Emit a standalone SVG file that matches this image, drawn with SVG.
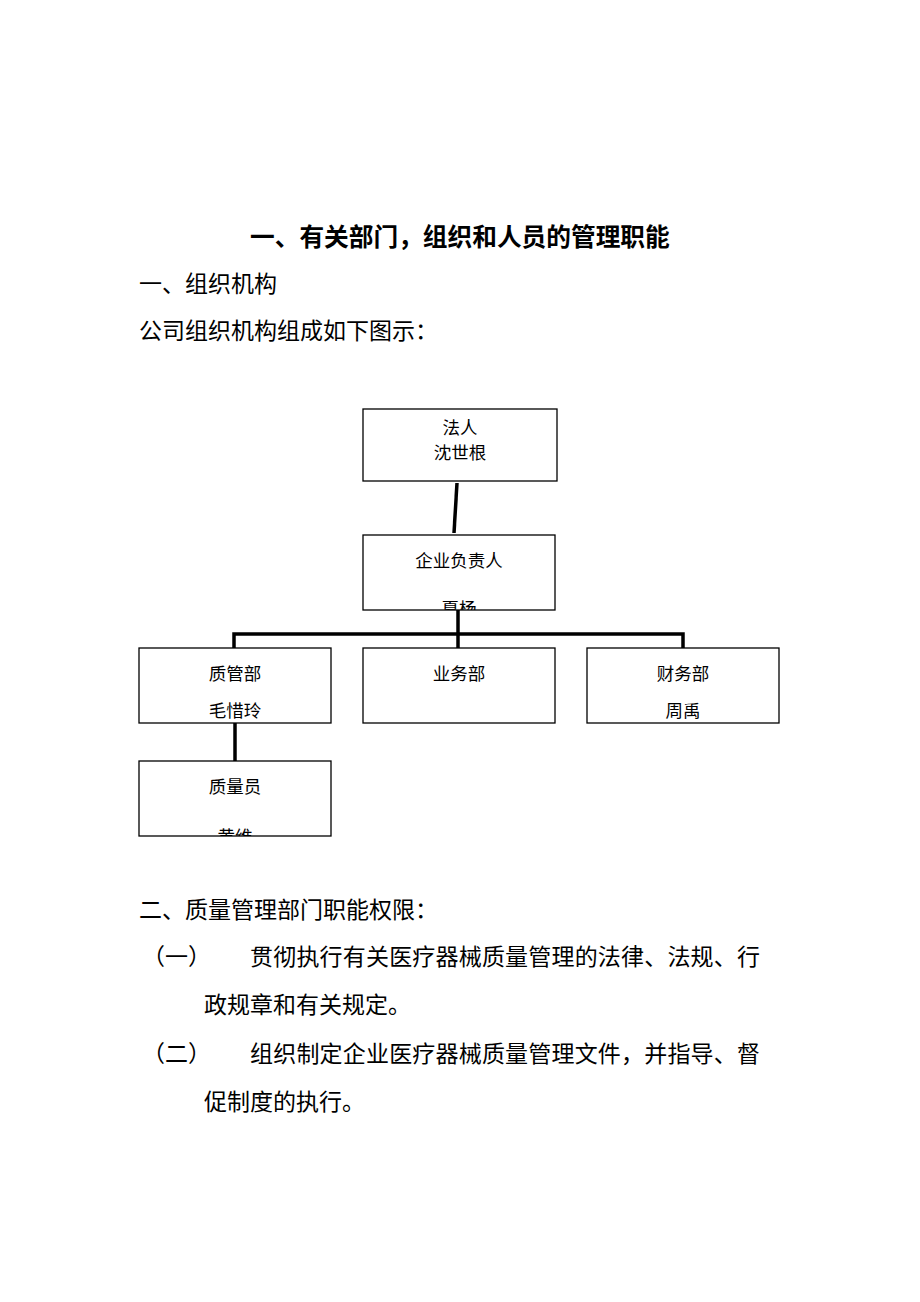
<svg xmlns="http://www.w3.org/2000/svg" width="920" height="1302" viewBox="0 0 920 1302">
<style>
.t{font-family:"Liberation Sans","Noto Sans CJK SC",sans-serif;fill:#000}
.h{font-size:24.7px;font-weight:bold}
.b{font-size:23px}
.n{font-size:17.5px;text-anchor:middle}
.box{fill:#fff;stroke:#000;stroke-width:1.3}
.c{stroke:#000;stroke-width:3.5;fill:none}
</style>
<defs>
<clipPath id="cp2"><rect x="363" y="535" width="192" height="75"/></clipPath>
<clipPath id="cp6"><rect x="139" y="761" width="192" height="75"/></clipPath>
</defs>
<rect width="920" height="1302" fill="#fff"/>
<text class="t h" x="250" y="246">一、有关部门，组织和人员的管理职能</text>
<text class="t b" x="139" y="292">一、组织机构</text>
<text class="t b" x="139" y="339">公司组织机构组成如下图示：</text>
<g id="connectors">
<line class="c" x1="457" y1="483" x2="454" y2="533"/>
<line class="c" x1="458" y1="610" x2="458" y2="634"/>
<polyline class="c" points="234,648 234,634 683,634 683,648"/>
<line class="c" x1="458" y1="634" x2="458" y2="648"/>
<line class="c" x1="235" y1="723" x2="235" y2="761"/>
</g>
<g id="n1"><rect class="box" x="363" y="409" width="194" height="72"/>
<text class="t n" x="460" y="434">法人</text><text class="t n" x="460" y="459">沈世根</text></g>
<g id="n2"><rect class="box" x="363" y="535" width="192" height="75"/>
<text class="t n" x="459" y="567">企业负责人</text>
<text class="t n" x="459" y="615" clip-path="url(#cp2)">夏杨</text></g>
<g id="n3"><rect class="box" x="139" y="648" width="192" height="75"/>
<text class="t n" x="235" y="680">质管部</text><text class="t n" x="235" y="717">毛惜玲</text></g>
<g id="n4"><rect class="box" x="363" y="648" width="192" height="75"/>
<text class="t n" x="459" y="680">业务部</text></g>
<g id="n5"><rect class="box" x="587" y="648" width="192" height="75"/>
<text class="t n" x="683" y="680">财务部</text><text class="t n" x="683" y="717">周禹</text></g>
<g id="n6"><rect class="box" x="139" y="761" width="192" height="75"/>
<text class="t n" x="235" y="793">质量员</text>
<text class="t n" x="235" y="843" clip-path="url(#cp6)">黄维</text></g>
<text class="t b" x="139" y="918">二、质量管理部门职能权限：</text>
<text class="t b" x="142" y="965">（一）</text>
<text class="t b" x="250" y="965" textLength="510">贯彻执行有关医疗器械质量管理的法律、法规、行</text>
<text class="t b" x="204" y="1013">政规章和有关规定。</text>
<text class="t b" x="142" y="1062">（二）</text>
<text class="t b" x="250" y="1062" textLength="510">组织制定企业医疗器械质量管理文件，并指导、督</text>
<text class="t b" x="204" y="1110">促制度的执行。</text>
</svg>
